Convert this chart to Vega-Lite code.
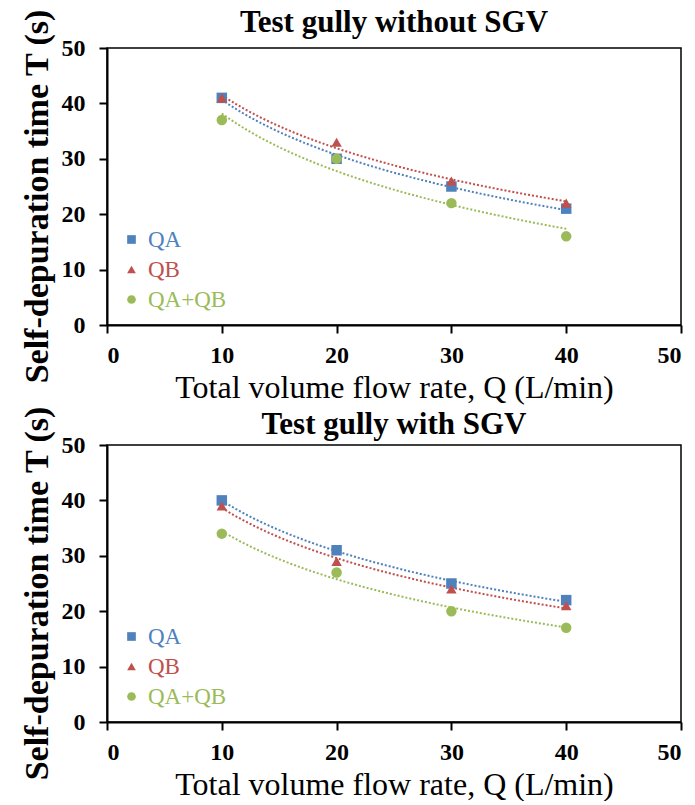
{
  "$schema": "https://vega.github.io/schema/vega-lite/v6.json",
  "padding": {"left": 19, "top": 5, "right": 8, "bottom": 0},
  "background": "white",
  "spacing": 0,
  "datasets": {
    "without": [
      {"series": "QA", "Q": 10, "T": 41},
      {"series": "QA", "Q": 20, "T": 30},
      {"series": "QA", "Q": 30, "T": 25},
      {"series": "QA", "Q": 40, "T": 21},
      {"series": "QB", "Q": 10, "T": 41},
      {"series": "QB", "Q": 20, "T": 33},
      {"series": "QB", "Q": 30, "T": 26},
      {"series": "QB", "Q": 40, "T": 22},
      {"series": "QA+QB", "Q": 10, "T": 37},
      {"series": "QA+QB", "Q": 20, "T": 30},
      {"series": "QA+QB", "Q": 30, "T": 22},
      {"series": "QA+QB", "Q": 40, "T": 16}
    ],
    "with": [
      {"series": "QA", "Q": 10, "T": 40},
      {"series": "QA", "Q": 20, "T": 31},
      {"series": "QA", "Q": 30, "T": 25},
      {"series": "QA", "Q": 40, "T": 22},
      {"series": "QB", "Q": 10, "T": 39},
      {"series": "QB", "Q": 20, "T": 29},
      {"series": "QB", "Q": 30, "T": 24},
      {"series": "QB", "Q": 40, "T": 21},
      {"series": "QA+QB", "Q": 10, "T": 34},
      {"series": "QA+QB", "Q": 20, "T": 27},
      {"series": "QA+QB", "Q": 30, "T": 20},
      {"series": "QA+QB", "Q": 40, "T": 17}
    ]
  },
  "config": {
    "font": "Liberation Serif",
    "view": {"stroke": "black", "strokeWidth": 1.5},
    "axis": {
      "domainColor": "black", "domainWidth": 2,
      "tickColor": "black", "tickWidth": 2, "tickSize": 8,
      "labelFont": "Liberation Serif", "labelFontSize": 24, "labelFontWeight": "bold", "labelColor": "black",
      "titleFont": "Liberation Serif", "titleColor": "black",
      "grid": false
    },
    "axisX": {"titleFontWeight": "normal", "titleFontSize": 32, "labelPadding": 10, "titlePadding": 5},
    "axisY": {"titleFontWeight": "bold", "titleFontSize": 34, "labelPadding": 14, "titlePadding": 7, "titleY": 148},
    "title": {"font": "Liberation Serif", "fontSize": 31, "fontWeight": "bold", "color": "black", "offset": -30},
    "legend": {
      "labelFont": "Liberation Serif", "labelFontSize": 23, "rowPadding": 6,
      "symbolSize": 75, "symbolStrokeWidth": 0, "labelOffset": 5, "padding": 0
    }
  },
  "resolve": {"scale": {"color": "independent", "shape": "independent", "stroke": "independent"}},
  "vconcat": [
    {
      "title": {"text": "Test gully without SGV", "offset": -30},
      "width": 574,
      "height": 277,
      "data": {"name": "without"},
      "layer": [
        {
          "transform": [{"regression": "T", "on": "Q", "groupby": ["series"], "method": "log"}],
          "mark": {"type": "line", "strokeDash": [2, 2], "strokeWidth": 2},
          "encoding": {
            "x": {"field": "Q", "type": "quantitative"},
            "y": {"field": "T", "type": "quantitative"},
            "stroke": {"field": "series", "type": "nominal", "scale": {"range": ["#4F81BD", "#9BBB59", "#C0504D"]}, "legend": null}
          }
        },
        {
          "mark": {"type": "point", "filled": true, "opacity": 1},
          "encoding": {
            "x": {"field": "Q", "type": "quantitative", "scale": {"domain": [0, 50]}, "axis": {"values": [0, 10, 20, 30, 40, 50], "title": "Total volume  flow rate, Q (L/min)"}},
            "y": {"field": "T", "type": "quantitative", "scale": {"domain": [0, 50]}, "axis": {"values": [0, 10, 20, 30, 40, 50], "title": "Self-depuration time T (s)"}},
            "color": {"field": "series", "type": "nominal", "scale": {"domain": ["QA", "QB", "QA+QB"], "range": ["#4F81BD", "#C0504D", "#9BBB59"]},
              "legend": {"title": null, "orient": "bottom-left", "offset": 13, "labelColor": {"expr": "datum.value === 'QA' ? '#4F81BD' : datum.value === 'QB' ? '#C0504D' : '#9BBB59'"}}},
            "shape": {"field": "series", "type": "nominal", "scale": {"domain": ["QA", "QB", "QA+QB"], "range": ["square", "triangle-up", "circle"]},
              "legend": {"title": null, "orient": "bottom-left", "offset": 13, "labelColor": {"expr": "datum.value === 'QA' ? '#4F81BD' : datum.value === 'QB' ? '#C0504D' : '#9BBB59'"}}},
            "size": {"value": 110}
          }
        }
      ]
    },
    {
      "title": {"text": "Test gully with SGV", "offset": -35},
      "width": 574,
      "height": 277,
      "data": {"name": "with"},
      "layer": [
        {
          "transform": [{"regression": "T", "on": "Q", "groupby": ["series"], "method": "log"}],
          "mark": {"type": "line", "strokeDash": [2, 2], "strokeWidth": 2},
          "encoding": {
            "x": {"field": "Q", "type": "quantitative"},
            "y": {"field": "T", "type": "quantitative"},
            "stroke": {"field": "series", "type": "nominal", "scale": {"range": ["#4F81BD", "#9BBB59", "#C0504D"]}, "legend": null}
          }
        },
        {
          "mark": {"type": "point", "filled": true, "opacity": 1},
          "encoding": {
            "x": {"field": "Q", "type": "quantitative", "scale": {"domain": [0, 50]}, "axis": {"values": [0, 10, 20, 30, 40, 50], "title": "Total volume  flow rate, Q (L/min)"}},
            "y": {"field": "T", "type": "quantitative", "scale": {"domain": [0, 50]}, "axis": {"values": [0, 10, 20, 30, 40, 50], "title": "Self-depuration time T (s)"}},
            "color": {"field": "series", "type": "nominal", "scale": {"domain": ["QA", "QB", "QA+QB"], "range": ["#4F81BD", "#C0504D", "#9BBB59"]},
              "legend": {"title": null, "orient": "bottom-left", "offset": 13, "labelColor": {"expr": "datum.value === 'QA' ? '#4F81BD' : datum.value === 'QB' ? '#C0504D' : '#9BBB59'"}}},
            "shape": {"field": "series", "type": "nominal", "scale": {"domain": ["QA", "QB", "QA+QB"], "range": ["square", "triangle-up", "circle"]},
              "legend": {"title": null, "orient": "bottom-left", "offset": 13, "labelColor": {"expr": "datum.value === 'QA' ? '#4F81BD' : datum.value === 'QB' ? '#C0504D' : '#9BBB59'"}}},
            "size": {"value": 110}
          }
        }
      ]
    }
  ]
}
